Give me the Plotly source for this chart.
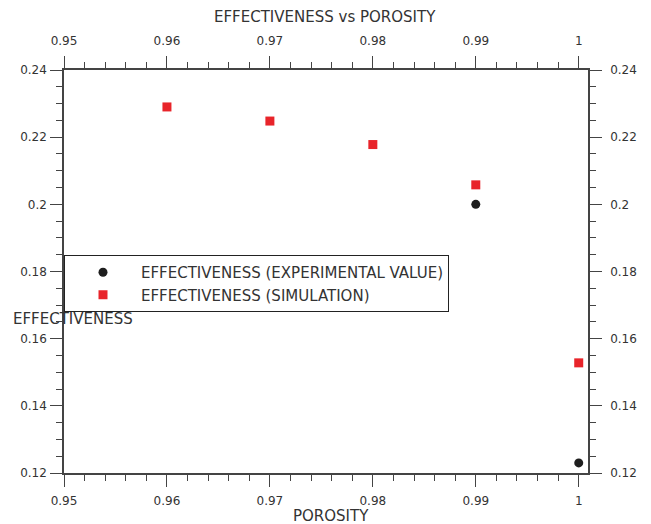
import plotly.graph_objects as go

# Porosity vs effectiveness data
porosity_exp = [0.99, 1.00]
effect_exp = [0.200, 0.123]
porosity_sim = [0.96, 0.97, 0.98, 0.99, 1.00]
effect_sim = [0.229, 0.2248, 0.2178, 0.2058, 0.1528]

x_ticks = [0.95, 0.96, 0.97, 0.98, 0.99, 1.0]
x_labels = ["0.95", "0.96", "0.97", "0.98", "0.99", "1"]
y_ticks = [0.12, 0.14, 0.16, 0.18, 0.2, 0.22, 0.24]
y_labels = ["0.12", "0.14", "0.16", "0.18", "0.2", "0.22", "0.24"]

FONT = "DejaVu Sans"
TXT = "#333333"
LINE = "#444444"
X_RANGE = [0.95, 1.0009]
Y_RANGE = [0.12, 0.24]

W, H = 651, 524
ML, MR, MT, MB = 64, 63, 70, 51
PW, PH = W - ML - MR, H - MT - MB

fig = go.Figure()
fig.add_trace(go.Scatter(
    x=porosity_exp, y=effect_exp, mode="markers",
    name="EFFECTIVENESS (EXPERIMENTAL VALUE)",
    marker=dict(symbol="circle", size=9, color="#1e1e1e"),
))
fig.add_trace(go.Scatter(
    x=porosity_sim, y=effect_sim, mode="markers",
    name="EFFECTIVENESS (SIMULATION)",
    marker=dict(symbol="square", size=9, color="#e8242a"),
))
# empty trace that anchors the top/right mirrored axes
fig.add_trace(go.Scatter(x=[None], y=[None], xaxis="x2", yaxis="y2",
                         showlegend=False, hoverinfo="skip"))

common_x = dict(
    range=X_RANGE, tickmode="array", tickvals=x_ticks, ticktext=x_labels,
    ticks="outside", ticklen=12, tickwidth=1.3, tickcolor=LINE,
    showline=True, linecolor=LINE, linewidth=1.5, showgrid=False, zeroline=False,
    automargin=False,
    minor=dict(dtick=0.002, tick0=0.95, ticks="outside", ticklen=6,
               tickwidth=1.2, tickcolor=LINE, showgrid=False),
    tickfont=dict(family=FONT, size=12, color=TXT),
)
common_y = dict(
    range=Y_RANGE, tickmode="array", tickvals=y_ticks, ticktext=y_labels,
    ticks="outside", ticklen=12, tickwidth=1.3, tickcolor=LINE,
    showline=True, linecolor=LINE, linewidth=1.5, showgrid=False, zeroline=False,
    automargin=False,
    minor=dict(dtick=0.005, tick0=0.12, ticks="outside", ticklen=6,
               tickwidth=1.2, tickcolor=LINE, showgrid=False),
    tickfont=dict(family=FONT, size=12, color=TXT),
)

text_font = dict(family=FONT, size=15, color=TXT)

fig.update_layout(
    width=W, height=H,
    margin=dict(l=ML, r=MR, t=MT, b=MB),
    paper_bgcolor="white", plot_bgcolor="white",
    font=dict(family=FONT, size=12, color=TXT),
    xaxis=dict(**common_x, side="bottom", ticklabelstandoff=4),
    xaxis2=dict(**common_x, side="top", overlaying="x", anchor="y",
                ticklabelstandoff=6),
    yaxis=dict(**common_y, side="left", ticklabelstandoff=1),
    yaxis2=dict(**common_y, side="right", overlaying="y", anchor="x",
                ticklabelstandoff=6),
    showlegend=True,
    legend=dict(x=0, xanchor="left", y=(H - MB - 255) / PH, yanchor="top",
                bgcolor="white", bordercolor="#222222", borderwidth=1,
                itemwidth=66, font=text_font),
    annotations=[
        dict(text="EFFECTIVENESS vs POROSITY", xref="paper", yref="paper",
             x=(325 - ML) / PW, xanchor="center", y=(H - MB - 17) / PH,
             yanchor="middle", showarrow=False, font=text_font),
        dict(text="POROSITY", xref="paper", yref="paper",
             x=(331 - ML) / PW, xanchor="center", y=(H - MB - 516) / PH,
             yanchor="middle", showarrow=False, font=text_font),
        dict(text="EFFECTIVENESS", xref="paper", yref="paper",
             x=(11 - ML) / PW, xanchor="left", y=(H - MB - 319) / PH,
             yanchor="middle", showarrow=False, font=text_font),
    ],
)

fig.write_html("out.html")
